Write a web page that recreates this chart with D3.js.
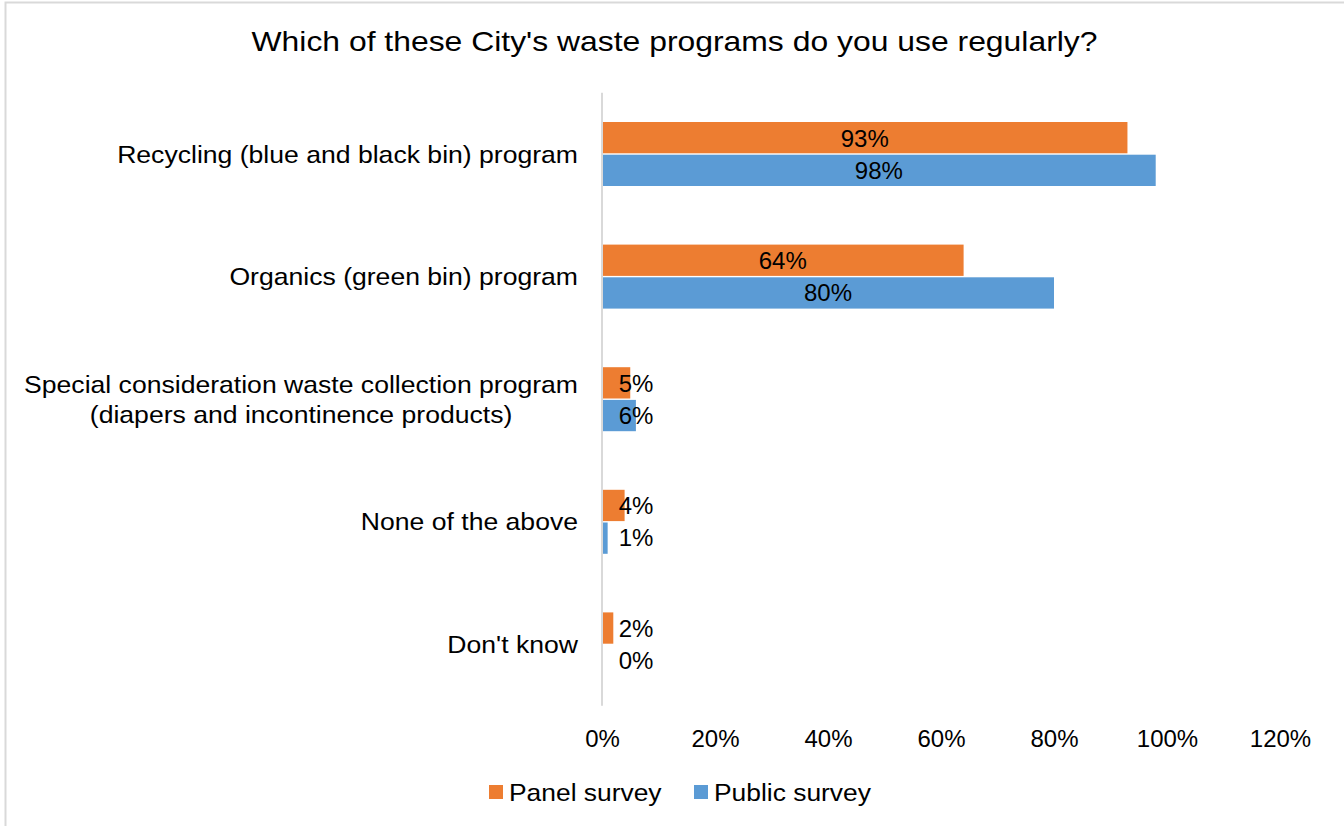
<!DOCTYPE html>
<html>
<head>
<meta charset="utf-8">
<script src="https://cdn.jsdelivr.net/npm/d3@7"></script>
<style>
  html, body { margin: 0; padding: 0; background: #fff; }
  svg { display: block; font-family: "Liberation Sans", Arial, sans-serif; }
</style>
</head>
<body>
<svg id="chart" width="1344" height="826"></svg>
<script>
// Survey responses
const categories = [
  "Recycling (blue and black bin) program",
  "Organics (green bin) program",
  "Special consideration waste collection program|(diapers and incontinence products)",
  "None of the above",
  "Don't know"
];
const panelSurvey = [0.93, 0.64, 0.05, 0.04, 0.02];
const publicSurvey = [0.98, 0.80, 0.06, 0.01, 0.00];
const seriesNames = ["Panel survey", "Public survey"];
const seriesColors = ["#ed7d31", "#5b9bd5"];
const tickValues = [0, 0.2, 0.4, 0.6, 0.8, 1.0, 1.2];

const svg = d3.select("#chart");

// Outer chart frame
svg.append("rect")
  .attr("x", 5.5).attr("y", 2.5)
  .attr("width", 1360).attr("height", 840)
  .attr("fill", "none").attr("stroke", "#d9d9d9").attr("stroke-width", 2);

const plot = { left: 602, right: 1280, top: 92.7, bottom: 705.7 };

const x = d3.scaleLinear().domain([0, 1.2]).range([plot.left, plot.right]);
const y = d3.scaleBand().domain(d3.range(categories.length))
  .range([plot.top, plot.bottom]).paddingInner(0.478).paddingOuter(0.239);
const sub = d3.scaleBand().domain([0, 1]).range([0, y.bandwidth()]);

// Text drawn with a slight horizontal stretch (wide face look)
function wideText(parent, px, py, str, size, anchor, sx) {
  return parent.append("g")
    .attr("transform", `translate(${px},${py}) scale(${sx},1)`)
    .append("text")
    .attr("text-anchor", anchor)
    .attr("font-size", size).attr("fill", "#000")
    .text(str);
}

// Title
wideText(svg, 674.5, 51, "Which of these City's waste programs do you use regularly?", 28, "middle", 1.139);

// Bars
const series = [panelSurvey, publicSurvey];
series.forEach((vals, si) => {
  const g = svg.append("g");
  g.selectAll("rect").data(vals).join("rect")
    .attr("x", x(0))
    .attr("y", (d, i) => y(i) + sub(si) + (si === 1 ? 0.7 : 0))
    .attr("width", d => x(d) - x(0))
    .attr("height", sub.bandwidth() - 0.7)
    .attr("fill", seriesColors[si]);

  g.selectAll("text").data(vals).join("text")
    .attr("x", d => Math.max((x(d) + x(0)) / 2, x(0) + 34))
    .attr("y", (d, i) => y(i) + sub(si) + sub.bandwidth() / 2)
    .attr("dy", "0.36em")
    .attr("text-anchor", "middle")
    .attr("font-size", 24).attr("fill", "#000")
    .text(d => d3.format(".0%")(d));
});

// Category axis line
svg.append("line")
  .attr("x1", x(0)).attr("x2", x(0))
  .attr("y1", plot.top).attr("y2", plot.bottom)
  .attr("stroke", "#d9d9d9").attr("stroke-width", 2);

// Category labels (multi-line labels are centred on each other)
const labelRight = 578;
const catSx = 1.108;
categories.forEach((c, i) => {
  const lines = c.split("|");
  const cy = y(i) + y.bandwidth() / 2;
  const lh = 30;
  const texts = lines.map((ln, li) =>
    wideText(svg, labelRight, cy + (li - (lines.length - 1) / 2) * lh + 8.5, ln, 24, "end", catSx));
  if (lines.length > 1) {
    const widths = texts.map(t => t.node().getComputedTextLength());
    const maxW = d3.max(widths);
    texts.forEach((t, k) => {
      t.attr("x", -(maxW - widths[k]) / 2);
    });
  }
});

// Value axis tick labels
const xAxis = d3.axisBottom(x).tickValues(tickValues)
  .tickFormat(d3.format(".0%")).tickSize(0).tickPadding(0);
const ax = svg.append("g").attr("transform", `translate(0, ${plot.bottom})`).call(xAxis);
ax.select(".domain").remove();
ax.selectAll("text")
  .attr("font-size", 24).attr("fill", "#000")
  .attr("font-family", "Liberation Sans, Arial, sans-serif")
  .attr("dy", null).attr("y", 41);

// Legend
const legend = svg.append("g");
const legendX = [489, 694];
seriesNames.forEach((n, i) => {
  legend.append("rect")
    .attr("x", legendX[i]).attr("y", 785)
    .attr("width", 14).attr("height", 14)
    .attr("fill", seriesColors[i]);
  wideText(legend, legendX[i] + 20, 801, n, 24, "start", 1.1);
});
</script>
</body>
</html>
